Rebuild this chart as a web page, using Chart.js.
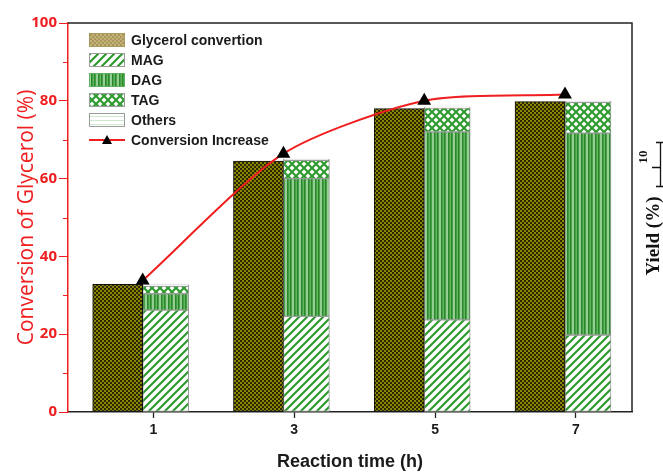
<!DOCTYPE html>
<html>
<head>
<meta charset="utf-8">
<script src="https://cdn.jsdelivr.net/npm/chart.js@4.4.0/dist/chart.umd.min.js"></script>
<style>
  html, body { margin: 0; padding: 0; background: #fff; }
  #wrap { width: 663px; height: 473px; }
</style>
</head>
<body>
<div id="wrap"><canvas id="chart" width="663" height="473"></canvas></div>
<script>
// data
const times = [1, 3, 5, 7];
const timeTicks = ['1', '3', '5', '7'];
const conversion = [32.8, 64.5, 78.0, 79.8];      // Glycerol convertion bars
const conversionLine = [33.8, 66.4, 80.0, 81.6];  // Conversion Increase markers
const mag = [26.2, 24.6, 23.7, 19.8];
const dag = [4.2, 35.4, 48.3, 51.9];
const tag = [2.0, 4.7, 6.1, 7.9];
const others = [0.3, 0.3, 0.3, 0.3];
const yTicks = [0, 20, 40, 60, 80, 100];
const yMinorTicks = [10, 30, 50, 70, 90];

const RED = '#f01e1e';
const SANS = '"Liberation Sans", Arial, sans-serif';

// hatch patterns
function makePattern(w, h, draw) {
    const c = document.createElement('canvas');
    c.width = w; c.height = h;
    draw(c.getContext('2d'), w, h);
    return c.getContext('2d').createPattern(c, 'repeat');
}

const darkPattern = makePattern(4, 4, (g) => {
    g.fillStyle = '#8a8600'; g.fillRect(0, 0, 4, 4);
    g.fillStyle = '#2a2800'; g.fillRect(0, 0, 2, 2); g.fillRect(2, 2, 2, 2);
});
const khakiPattern = makePattern(4, 4, (g) => {
    g.fillStyle = '#c2b27a'; g.fillRect(0, 0, 4, 4);
    g.fillStyle = '#a8965a'; g.fillRect(0, 0, 2, 2); g.fillRect(2, 2, 2, 2);
});
const magPattern = makePattern(8, 8, (g) => {
    g.fillStyle = '#fff'; g.fillRect(0, 0, 8, 8);
    g.strokeStyle = '#2f9a2f'; g.lineWidth = 2.2;
    g.beginPath();
    g.moveTo(-2, 10); g.lineTo(10, -2);
    g.moveTo(-6, 6); g.lineTo(6, -6);
    g.moveTo(2, 14); g.lineTo(14, 2);
    g.stroke();
});
const dagPattern = makePattern(7, 4, (g) => {
    g.fillStyle = '#62b662'; g.fillRect(0, 0, 7, 4);
    g.fillStyle = '#2a872a'; g.fillRect(0, 0, 1.5, 4); g.fillRect(3, 0, 1.5, 4);
    g.fillStyle = '#c8e8c8'; g.fillRect(5.5, 0, 1, 4);
});
const tagPattern = makePattern(8, 8, (g) => {
    g.fillStyle = '#fff'; g.fillRect(0, 0, 8, 8);
    g.strokeStyle = '#2f9a2f'; g.lineWidth = 2.2;
    g.beginPath();
    g.moveTo(0, 0); g.lineTo(8, 8);
    g.moveTo(8, 0); g.lineTo(0, 8);
    g.stroke();
});
const othersPattern = makePattern(4, 4, (g) => {
    g.fillStyle = '#fff'; g.fillRect(0, 0, 4, 4);
    g.fillStyle = '#cfe8cf'; g.fillRect(0, 0, 4, 1);
});

const pts = (arr) => times.map((t, i) => ({ x: t, y: arr[i] }));

const greenBar = {
    type: 'bar', stack: 'yield', barThickness: 46,
    borderColor: '#9c9c9c', borderWidth: 1, borderSkipped: false, order: 1
};

// legend inside the plot
const legendItems = [
    { label: 'Glycerol convertion', fill: khakiPattern, border: '#a89a5c' },
    { label: 'MAG', fill: magPattern, border: '#9c9c9c' },
    { label: 'DAG', fill: dagPattern, border: '#5cb25c' },
    { label: 'TAG', fill: tagPattern, border: '#9c9c9c' },
    { label: 'Others', fill: othersPattern, border: '#9c9c9c' },
    { label: 'Conversion Increase', line: true }
];

const decorPlugin = {
    id: 'decor',
    afterDraw(chart) {
        const ctx = chart.ctx;
        const a = chart.chartArea;
        const y = chart.scales.y;
        ctx.save();

        // frame top and right
        ctx.strokeStyle = '#222'; ctx.lineWidth = 1.5;
        ctx.beginPath();
        ctx.moveTo(a.left, a.top); ctx.lineTo(a.right, a.top); ctx.lineTo(a.right, a.bottom);
        ctx.stroke();

        // minor ticks on left axis
        ctx.strokeStyle = RED; ctx.lineWidth = 1;
        yMinorTicks.forEach(v => {
            const py = Math.round(y.getPixelForValue(v)) + 0.5;
            ctx.beginPath(); ctx.moveTo(a.left, py); ctx.lineTo(a.left - 5, py); ctx.stroke();
        });

        // legend
        let ly = 40;
        ctx.font = 'bold 14px ' + SANS;
        ctx.textBaseline = 'middle';
        legendItems.forEach(it => {
            if (it.line) {
                ctx.strokeStyle = RED; ctx.lineWidth = 2;
                ctx.beginPath(); ctx.moveTo(89, ly); ctx.lineTo(125, ly); ctx.stroke();
                ctx.fillStyle = '#000';
                ctx.beginPath(); ctx.moveTo(107, ly - 5); ctx.lineTo(112, ly + 4); ctx.lineTo(102, ly + 4); ctx.closePath(); ctx.fill();
            } else {
                ctx.fillStyle = it.fill; ctx.fillRect(89, ly - 7, 36, 14);
                ctx.strokeStyle = it.border; ctx.lineWidth = 1;
                ctx.strokeRect(89.5, ly - 6.5, 35, 13);
            }
            ctx.fillStyle = '#1a1a1a';
            ctx.fillText(it.label, 131, ly + 1);
            ly += 20;
        });

        // right side "Yield (%)" mini axis
        ctx.fillStyle = '#111';
        ctx.save();
        ctx.translate(654, 236);
        ctx.rotate(-Math.PI / 2);
        ctx.font = 'bold 19px "Liberation Serif", "Times New Roman", serif';
        ctx.textAlign = 'center';
        ctx.fillText('Yield (%)', 0, 0);
        ctx.restore();
        ctx.save();
        ctx.translate(644, 157);
        ctx.rotate(-Math.PI / 2);
        ctx.font = 'bold 13px "Liberation Serif", "Times New Roman", serif';
        ctx.textAlign = 'center';
        ctx.fillText('10', 0, 0);
        ctx.restore();
        ctx.strokeStyle = '#111'; ctx.lineWidth = 1.3;
        ctx.beginPath();
        ctx.moveTo(660.5, 142); ctx.lineTo(660.5, 187);
        ctx.moveTo(656, 142.5); ctx.lineTo(663, 142.5);
        ctx.moveTo(656, 186.5); ctx.lineTo(663, 186.5);
        ctx.moveTo(652, 167.5); ctx.lineTo(660.5, 167.5);
        ctx.stroke();

        ctx.restore();
    }
};

new Chart(document.getElementById('chart'), {
    data: {
        datasets: [
            {
                type: 'line', label: 'Conversion Increase', data: pts(conversionLine),
                borderColor: RED, borderWidth: 2, tension: 0.25,
                pointStyle: 'triangle', pointRadius: 6, pointBackgroundColor: '#000', pointBorderColor: '#000',
                order: 0
            },
            {
                type: 'bar', label: 'Glycerol convertion', data: pts(conversion), stack: 'conv',
                barThickness: 50, backgroundColor: darkPattern, borderColor: '#111', borderWidth: 1,
                borderSkipped: false, order: 1
            },
            { ...greenBar, label: 'MAG', data: pts(mag), backgroundColor: magPattern },
            { ...greenBar, label: 'DAG', data: pts(dag), backgroundColor: dagPattern },
            { ...greenBar, label: 'TAG', data: pts(tag), backgroundColor: tagPattern },
            { ...greenBar, label: 'Others', data: pts(others), backgroundColor: othersPattern }
        ]
    },
    options: {
        responsive: false,
        animation: false,
        devicePixelRatio: 1,
        layout: { padding: { top: 23, right: 31, left: 0, bottom: 0 } },
        plugins: { legend: { display: false }, tooltip: { enabled: false } },
        scales: {
            x: {
                type: 'linear', display: false, offset: false,
                min: -0.061, max: 7.952
            },
            xt: {
                type: 'linear', position: 'bottom', offset: false,
                min: -0.211, max: 7.795,
                afterBuildTicks: (s) => { s.ticks = times.map(v => ({ value: v })); },
                afterFit: (s) => { s.height = 61; },
                border: { color: '#222', width: 1.5 },
                grid: { drawOnChartArea: false, tickLength: 6, color: '#222', tickWidth: 1.3 },
                ticks: {
                    padding: 4, color: '#1a1a1a', font: { family: SANS, size: 14, weight: 'bold' },
                    callback: (v) => timeTicks[times.indexOf(v)]
                },
                title: {
                    display: true, text: 'Reaction time (h)', color: '#1a1a1a',
                    font: { family: SANS, size: 18, weight: 'bold' }, padding: { top: 8, bottom: 0 }
                }
            },
            y: {
                min: 0, max: 100, position: 'left',
                afterBuildTicks: (s) => { s.ticks = yTicks.map(v => ({ value: v })); },
                afterFit: (s) => { s.width = 68; },
                border: { color: RED, width: 1.5 },
                grid: { drawOnChartArea: false, tickLength: 9, color: RED },
                ticks: { padding: 2, color: RED, font: { family: '"Open Sans", sans-serif', size: 15, weight: 'bold' } },
                title: {
                    display: true, text: 'Conversion of Glycerol (%)', color: RED,
                    font: { family: '"Open Sans", sans-serif', size: 21 }, padding: { top: 14, bottom: 0 }
                }
            }
        }
    },
    plugins: [decorPlugin]
});
</script>
</body>
</html>
